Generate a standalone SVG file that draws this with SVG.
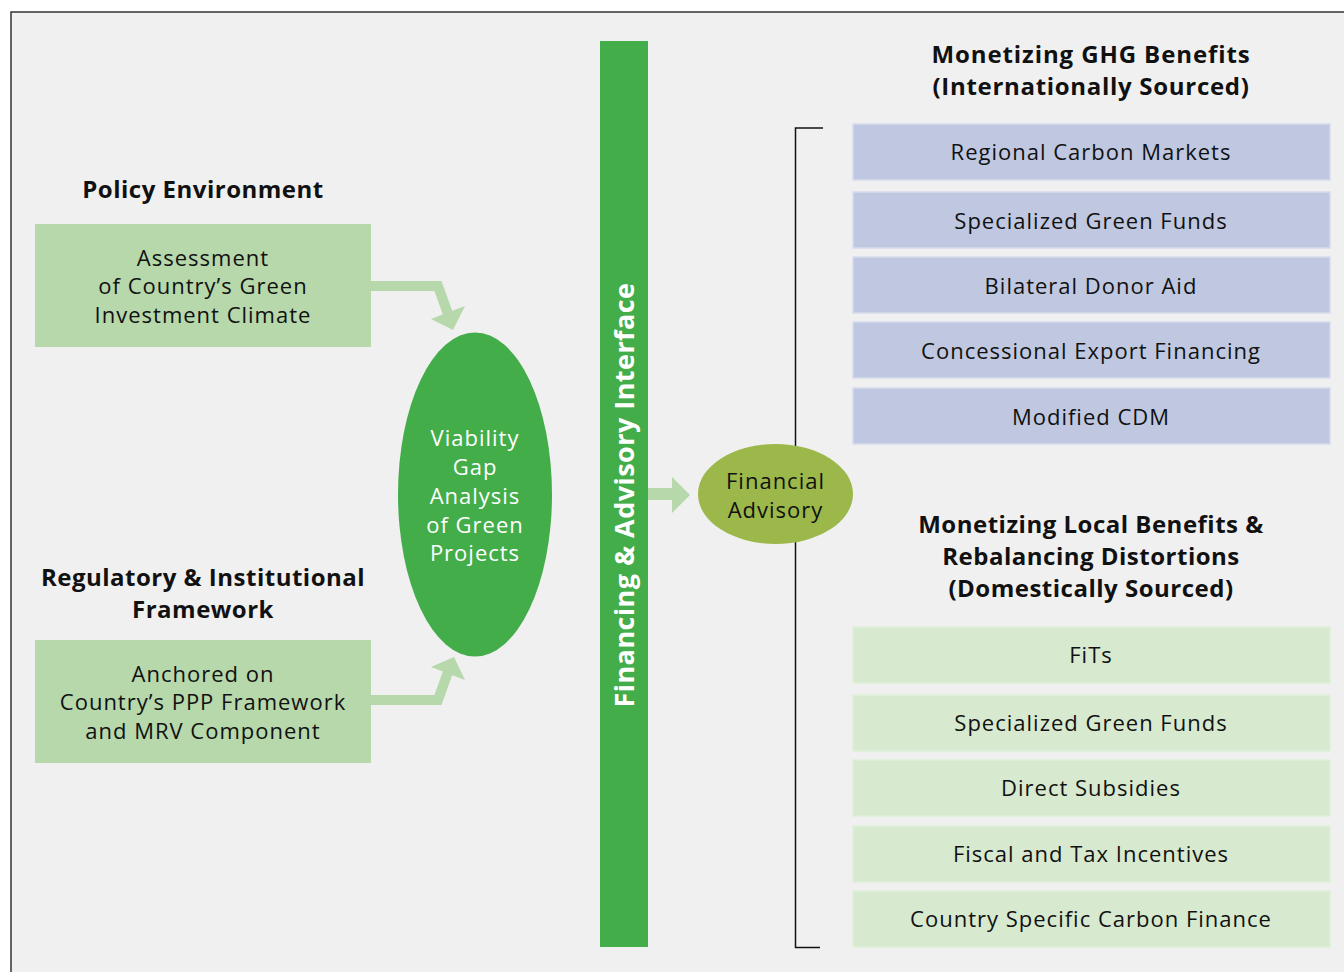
<svg xmlns="http://www.w3.org/2000/svg" width="1344" height="972" viewBox="0 0 1344 972">
<defs>
<style>
.t{font-family:"Open Sans","Noto Sans","Liberation Sans",sans-serif;font-size:22px;letter-spacing:1px;fill:#111;text-anchor:middle}
.h{font-family:"Open Sans","Noto Sans","Liberation Sans",sans-serif;font-size:24px;letter-spacing:0.5px;font-weight:bold;fill:#111;text-anchor:middle}
.w{fill:#fff}
.blue{fill:#bfc8e0;stroke:#d6dcec;stroke-width:1.5}
.lg{fill:#d7e9cf;stroke:#e0efd9;stroke-width:1.5}
.mg{fill:#b6d8ab}
.conn{fill:none;stroke:#b6d8ab;stroke-width:10}
</style>
</defs>
<rect x="0" y="0" width="1344" height="972" fill="#ffffff"/>
<rect x="11" y="12" width="1345" height="975" fill="#f0f0f0" stroke="#333" stroke-width="1.5"/>

<g id="connectors">
<polyline class="conn" points="371,286 438,286 448,314"/>
<polygon class="mg" points="431,319 465,306 453,330"/>
<polyline class="conn" points="371,700 438,700 448,672"/>
<polygon class="mg" points="431,667 465,680 454,657"/>
<rect x="648" y="488" width="26" height="12" class="mg"/>
<polygon class="mg" points="672,477 690,495 672,513"/>
<polyline points="823,128 795.5,128 795.5,947.5 820,947.5" fill="none" stroke="#111" stroke-width="1.5"/>
</g>

<g id="policy-heading">
<text class="h" x="203" y="198">Policy Environment</text>
</g>
<g id="assessment">
<rect x="35" y="224" width="336" height="123" class="mg"/>
<text class="t" x="203" y="266">Assessment</text>
<text class="t" x="203" y="294">of Country’s Green</text>
<text class="t" x="203" y="323">Investment Climate</text>
</g>
<g id="regulatory-heading">
<text class="h" x="203" y="586">Regulatory &amp; Institutional</text>
<text class="h" x="203" y="618">Framework</text>
</g>
<g id="anchored">
<rect x="35" y="640" width="336" height="123" class="mg"/>
<text class="t" x="203" y="682">Anchored on</text>
<text class="t" x="203" y="710">Country’s PPP Framework</text>
<text class="t" x="203" y="739">and MRV Component</text>
</g>
<g id="viability">
<ellipse cx="475" cy="494.5" rx="77" ry="162" fill="#43ad4a"/>
<text class="t w" x="475" y="446">Viability</text>
<text class="t w" x="475" y="475">Gap</text>
<text class="t w" x="475" y="504">Analysis</text>
<text class="t w" x="475" y="533">of Green</text>
<text class="t w" x="475" y="561">Projects</text>
</g>
<g id="interface">
<rect x="600" y="41" width="48" height="906" fill="#43ad4a"/>
<text class="h w" transform="translate(634,495) rotate(-90)" x="0" y="0" style="font-size:27px;letter-spacing:0.45px">Financing &amp; Advisory Interface</text>
</g>
<g id="financial-advisory">
<ellipse cx="775.5" cy="494" rx="77.5" ry="50" fill="#9cb84a"/>
<text class="t" x="775.5" y="489">Financial</text>
<text class="t" x="775.5" y="518">Advisory</text>
</g>
<g id="ghg-heading">
<text class="h" x="1091" y="63" style="letter-spacing:0.9px">Monetizing GHG Benefits</text>
<text class="h" x="1091" y="95" style="letter-spacing:0.7px">(Internationally Sourced)</text>
</g>
<g id="regional"><rect x="853" y="124" width="477" height="56" class="blue"/><text class="t" x="1091" y="160">Regional Carbon Markets</text></g>
<g id="green-funds-1"><rect x="853" y="192" width="477" height="56" class="blue"/><text class="t" x="1091" y="229">Specialized Green Funds</text></g>
<g id="bilateral"><rect x="853" y="257" width="477" height="56" class="blue"/><text class="t" x="1091" y="294">Bilateral Donor Aid</text></g>
<g id="concessional"><rect x="853" y="322" width="477" height="56" class="blue"/><text class="t" x="1091" y="359">Concessional Export Financing</text></g>
<g id="cdm"><rect x="853" y="388" width="477" height="56" class="blue"/><text class="t" x="1091" y="425">Modified CDM</text></g>
<g id="local-heading">
<text class="h" x="1091" y="533">Monetizing Local Benefits &amp;</text>
<text class="h" x="1091" y="565">Rebalancing Distortions</text>
<text class="h" x="1091" y="597">(Domestically Sourced)</text>
</g>
<g id="fits"><rect x="853" y="627" width="477" height="56" class="lg"/><text class="t" x="1091" y="663">FiTs</text></g>
<g id="green-funds-2"><rect x="853" y="695" width="477" height="56" class="lg"/><text class="t" x="1091" y="731">Specialized Green Funds</text></g>
<g id="subsidies"><rect x="853" y="760" width="477" height="56" class="lg"/><text class="t" x="1091" y="796">Direct Subsidies</text></g>
<g id="fiscal"><rect x="853" y="826" width="477" height="56" class="lg"/><text class="t" x="1091" y="862">Fiscal and Tax Incentives</text></g>
<g id="carbon-finance"><rect x="853" y="891" width="477" height="56" class="lg"/><text class="t" x="1091" y="927">Country Specific Carbon Finance</text></g>
</svg>
